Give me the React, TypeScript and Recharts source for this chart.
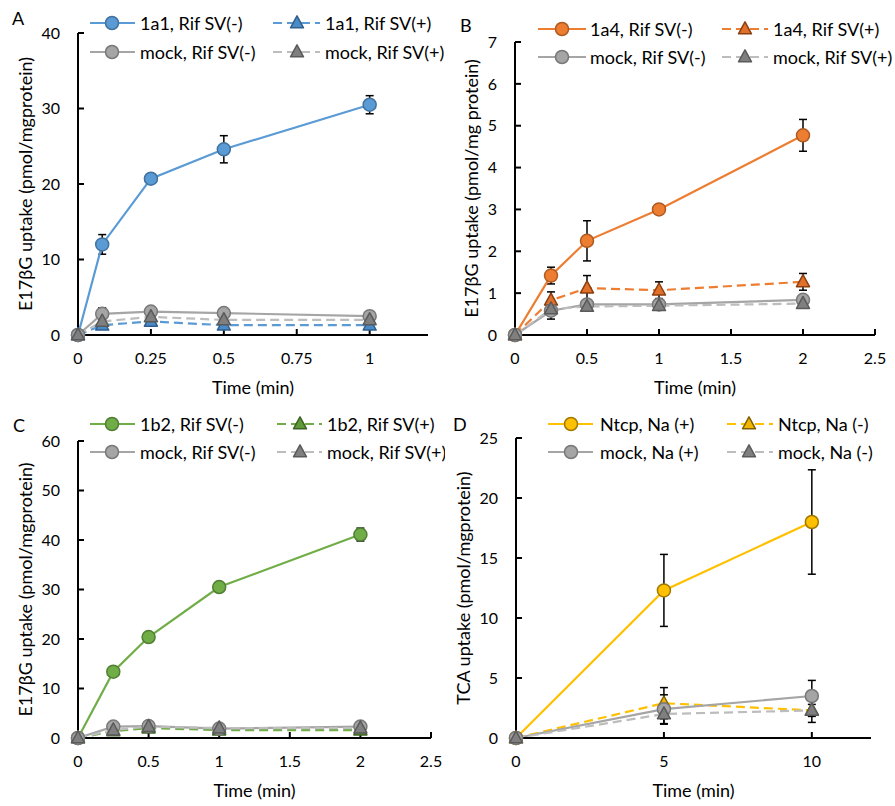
import React from 'react';
import { LineChart, Line, XAxis, YAxis, ErrorBar, Legend, Label } from 'recharts';

const FONT = 'Lato, "Open Sans", sans-serif';

// Panel A: 1a1 (E17βG, 0–1 min)
const timeA = [0, 0.083, 0.25, 0.5, 1];
const a1a1RifMinus = [0, 12.0, 20.7, 24.6, 30.5];
const a1a1RifMinusErr = [0, 1.3, 0.3, 1.8, 1.2];
const a1a1RifPlus = [0, 1.3, 1.8, 1.3, 1.3];
const a1a1RifPlusErr = [0, 0.3, 0.3, 0.2, 0.2];
const aMockRifMinus = [0, 2.8, 3.1, 2.9, 2.5];
const aMockRifMinusErr = [0, 0.8, 0.6, 0.3, 0.5];
const aMockRifPlus = [0, 1.8, 2.4, 2.0, 2.0];
const aMockRifPlusErr = [0, 0.4, 0.3, 0.3, 0.3];

// Panel B: 1a4 (E17βG, 0–2 min)
const timeB = [0, 0.25, 0.5, 1, 2];
const b1a4RifMinus = [0, 1.42, 2.25, 3.0, 4.77];
const b1a4RifMinusErr = [0, 0.2, 0.48, 0.03, 0.38];
const b1a4RifPlus = [0, 0.83, 1.12, 1.07, 1.27];
const b1a4RifPlusErr = [0, 0.2, 0.3, 0.2, 0.2];
const bMockRifMinus = [0, 0.58, 0.73, 0.73, 0.84];
const bMockRifMinusErr = [0, 0.2, 0.05, 0.05, 0.1];
const bMockRifPlus = [0, 0.62, 0.68, 0.7, 0.75];
const bMockRifPlusErr = [0, 0.15, 0.05, 0.05, 0.08];

// Panel C: 1b2 (E17βG, 0–2 min)
const timeC = [0, 0.25, 0.5, 1, 2];
const c1b2RifMinus = [0, 13.4, 20.4, 30.5, 41.1];
const c1b2RifMinusErr = [0, 0.5, 0.5, 0.9, 1.3];
const c1b2RifPlus = [0, 1.4, 2.0, 1.6, 1.6];
const c1b2RifPlusErr = [0, 0.3, 0.3, 0.3, 0.3];
const cMockRifMinus = [0, 2.3, 2.4, 1.9, 2.3];
const cMockRifMinusErr = [0, 0.3, 0.3, 0.3, 0.3];
const cMockRifPlus = [0, 1.6, 2.3, 2.0, 2.0];
const cMockRifPlusErr = [0, 0.3, 0.3, 0.3, 0.3];

// Panel D: Ntcp (TCA, 0–10 min)
const timeD = [0, 5, 10];
const dNtcpNaPlus = [0, 12.3, 18.0];
const dNtcpNaPlusErr = [0, 3.0, 4.35];
const dNtcpNaMinus = [0, 2.9, 2.3];
const dNtcpNaMinusErr = [0, 1.3, 0.5];
const dMockNaPlus = [0, 2.4, 3.5];
const dMockNaPlusErr = [0, 1.2, 1.3];
const dMockNaMinus = [0, 2.0, 2.3];
const dMockNaMinusErr = [0, 0.85, 1.0];

type Shape = 'circle' | 'triangle';

interface SeriesDef {
  name: string;
  line: string;
  fill: string;
  edge: string;
  dashed: boolean;
  shape: Shape;
}

const grayCircle = { line: '#A5A5A5', fill: '#A5A5A5', edge: '#787878', dashed: false, shape: 'circle' as Shape };
const grayTriangle = { line: '#BDBDBD', fill: '#7F7F7F', edge: '#5A5A5A', dashed: true, shape: 'triangle' as Shape };

const buildRows = (t: number[], vals: number[][], errs: number[][]) =>
  t.map((x, i) => {
    const row: Record<string, number> = { t: x };
    vals.forEach((v, k) => {
      row[`s${k}`] = v[i];
      row[`e${k}`] = errs[k][i];
    });
    return row;
  });

const drawMarker = (shape: Shape, cx: number, cy: number, fill: string, edge: string, key: string) => {
  if (cx == null || cy == null) return <g key={key} />;
  if (shape === 'circle') {
    return <circle key={key} cx={cx} cy={cy} r={6.5} fill={fill} stroke={edge} strokeWidth={1.5} />;
  }
  const w = 13;
  const h = 12;
  return (
    <polygon
      key={key}
      points={`${cx},${cy - h * 0.6} ${cx + w / 2},${cy + h * 0.4} ${cx - w / 2},${cy + h * 0.4}`}
      fill={fill}
      stroke={edge}
      strokeWidth={1.5}
      strokeLinejoin="round"
    />
  );
};

interface LegendCol { from: number; to: number; marker: number; text: number }

interface PanelDef {
  letter: string;
  letterX: number;
  letterY: number;
  left: number;
  top: number;
  width: number;
  height: number;
  margin: { top: number; right: number; bottom: number; left: number };
  yWidth: number;
  rows: Record<string, number>[];
  xDomain: [number, number];
  xTicks: number[];
  yDomain: [number, number];
  yTicks: number[];
  yLabel: string;
  yLabelX: number;
  series: SeriesDef[];
  legendRows: number[];
  legendCols: LegendCol[];
}

const panels: PanelDef[] = [
  {
    letter: 'A', letterX: 12, letterY: 18, left: 0, top: 0, width: 445, height: 400,
    margin: { top: 33, right: 17, bottom: 10, left: 0 }, yWidth: 78,
    rows: buildRows(timeA, [a1a1RifMinus, a1a1RifPlus, aMockRifMinus, aMockRifPlus],
      [a1a1RifMinusErr, a1a1RifPlusErr, aMockRifMinusErr, aMockRifPlusErr]),
    xDomain: [0, 1.2], xTicks: [0, 0.25, 0.5, 0.75, 1],
    yDomain: [0, 40], yTicks: [0, 10, 20, 30, 40],
    yLabel: 'E17βG uptake (pmol/mgprotein)', yLabelX: 25,
    series: [
      { name: '1a1, Rif SV(-)', line: '#5B9BD5', fill: '#5B9BD5', edge: '#41719C', dashed: false, shape: 'circle' },
      { name: '1a1, Rif SV(+)', line: '#5B9BD5', fill: '#4A8AC6', edge: '#2F5F8F', dashed: true, shape: 'triangle' },
      { name: 'mock, Rif SV(-)', ...grayCircle },
      { name: 'mock, Rif SV(+)', ...grayTriangle },
    ],
    legendRows: [23, 52],
    legendCols: [{ from: 90, to: 135, marker: 112, text: 140 }, { from: 273, to: 320, marker: 297, text: 325 }],
  },
  {
    letter: 'B', letterX: 15, letterY: 25, left: 445, top: 0, width: 450, height: 400,
    margin: { top: 42, right: 20, bottom: 10, left: 0 }, yWidth: 70,
    rows: buildRows(timeB, [b1a4RifMinus, b1a4RifPlus, bMockRifMinus, bMockRifPlus],
      [b1a4RifMinusErr, b1a4RifPlusErr, bMockRifMinusErr, bMockRifPlusErr]),
    xDomain: [0, 2.5], xTicks: [0, 0.5, 1, 1.5, 2, 2.5],
    yDomain: [0, 7], yTicks: [0, 1, 2, 3, 4, 5, 6, 7],
    yLabel: 'E17βG uptake (pmol/mg protein)', yLabelX: 26,
    series: [
      { name: '1a4, Rif SV(-)', line: '#ED7D31', fill: '#ED7D31', edge: '#AE5A21', dashed: false, shape: 'circle' },
      { name: '1a4, Rif SV(+)', line: '#ED7D31', fill: '#E0702A', edge: '#8A3F10', dashed: true, shape: 'triangle' },
      { name: 'mock, Rif SV(-)', ...grayCircle },
      { name: 'mock, Rif SV(+)', ...grayTriangle },
    ],
    legendRows: [29, 57],
    legendCols: [{ from: 93, to: 141, marker: 117, text: 145 }, { from: 277, to: 323, marker: 300, text: 328 }],
  },
  {
    letter: 'C', letterX: 13, letterY: 25, left: 0, top: 400, width: 445, height: 406,
    margin: { top: 41, right: 14, bottom: 13, left: 0 }, yWidth: 78,
    rows: buildRows(timeC, [c1b2RifMinus, c1b2RifPlus, cMockRifMinus, cMockRifPlus],
      [c1b2RifMinusErr, c1b2RifPlusErr, cMockRifMinusErr, cMockRifPlusErr]),
    xDomain: [0, 2.5], xTicks: [0, 0.5, 1, 1.5, 2, 2.5],
    yDomain: [0, 60], yTicks: [0, 10, 20, 30, 40, 50, 60],
    yLabel: 'E17βG uptake (pmol/mgprotein)', yLabelX: 25,
    series: [
      { name: '1b2, Rif SV(-)', line: '#70AD47', fill: '#70AD47', edge: '#507E32', dashed: false, shape: 'circle' },
      { name: '1b2, Rif SV(+)', line: '#70AD47', fill: '#5E9A38', edge: '#3D6325', dashed: true, shape: 'triangle' },
      { name: 'mock, Rif SV(-)', ...grayCircle },
      { name: 'mock, Rif SV(+)', ...grayTriangle },
    ],
    legendRows: [24, 52],
    legendCols: [{ from: 90, to: 135, marker: 112, text: 140 }, { from: 277, to: 322, marker: 300, text: 327 }],
  },
  {
    letter: 'D', letterX: 8, letterY: 24, left: 445, top: 400, width: 450, height: 406,
    margin: { top: 38, right: 24, bottom: 13, left: 0 }, yWidth: 71,
    rows: buildRows(timeD, [dNtcpNaPlus, dNtcpNaMinus, dMockNaPlus, dMockNaMinus],
      [dNtcpNaPlusErr, dNtcpNaMinusErr, dMockNaPlusErr, dMockNaMinusErr]),
    xDomain: [0, 12], xTicks: [0, 5, 10],
    yDomain: [0, 25], yTicks: [0, 5, 10, 15, 20, 25],
    yLabel: 'TCA uptake (pmol/mgprotein)', yLabelX: 18,
    series: [
      { name: 'Ntcp, Na (+)', line: '#FFC000', fill: '#FFC000', edge: '#A07800', dashed: false, shape: 'circle' },
      { name: 'Ntcp, Na (-)', line: '#FFC000', fill: '#F2B600', edge: '#7F6000', dashed: true, shape: 'triangle' },
      { name: 'mock, Na (+)', ...grayCircle },
      { name: 'mock, Na (-)', ...grayTriangle },
    ],
    legendRows: [24, 52],
    legendCols: [{ from: 103, to: 148, marker: 126, text: 155 }, { from: 282, to: 328, marker: 304, text: 333 }],
  },
];

const Panel = ({ p }: { p: PanelDef }) => {
  const legendContent = () => (
    <svg width={p.width} height={70} style={{ display: 'block', overflow: 'visible' }}>
      <text x={p.letterX} y={p.letterY} dominantBaseline="central" fontSize={18} fontWeight={400} fontFamily={FONT} fill="#000">
        {p.letter}
      </text>
      {p.series.map((s, i) => {
        const col = p.legendCols[i % 2];
        const y = p.legendRows[Math.floor(i / 2)];
        return (
          <g key={s.name}>
            <line
              x1={col.from}
              x2={col.to}
              y1={y}
              y2={y}
              stroke={s.line}
              strokeWidth={2.2}
              strokeDasharray={s.dashed ? '9 5' : undefined}
            />
            {drawMarker(s.shape, col.marker, y, s.fill, s.edge, `lg-${i}`)}
            <text x={col.text} y={y} dominantBaseline="central" fontSize={18} fontWeight={400} fontFamily={FONT} fill="#000">
              {s.name}
            </text>
          </g>
        );
      })}
    </svg>
  );

  return (
    <div style={{ position: 'absolute', left: p.left, top: p.top, width: p.width, height: p.height, overflow: 'hidden' }}>
      <LineChart width={p.width} height={p.height} data={p.rows} margin={p.margin} style={{ fontFamily: FONT, fontWeight: 400 }}>
        <XAxis
          type="number"
          dataKey="t"
          domain={p.xDomain}
          ticks={p.xTicks}
          interval={0}
          height={55}
          tickSize={-6}
          tickMargin={24}
          axisLine={{ stroke: '#000', strokeWidth: 2 }}
          tickLine={{ stroke: '#000', strokeWidth: 2 }}
          tick={{ fill: '#000', fontSize: 16, fontWeight: 400, fontFamily: FONT }}
        >
          <Label
            content={(lp: any) => (
              <text
                x={lp.viewBox.x + lp.viewBox.width / 2}
                y={lp.viewBox.y + 52}
                textAnchor="middle"
                dominantBaseline="central"
                fontSize={18}
                fontWeight={400}
                fontFamily={FONT}
                fill="#000"
              >
                Time (min)
              </text>
            )}
          />
        </XAxis>
        <YAxis
          type="number"
          domain={p.yDomain}
          ticks={p.yTicks}
          interval={0}
          width={p.yWidth}
          tickSize={-6}
          tickMargin={24}
          axisLine={{ stroke: '#000', strokeWidth: 2 }}
          tickLine={{ stroke: '#000', strokeWidth: 2 }}
          tick={{ fill: '#000', fontSize: 16, fontWeight: 400, fontFamily: FONT }}
        >
          <Label
            content={(lp: any) => {
              const cy = lp.viewBox.y + lp.viewBox.height / 2;
              return (
                <text
                  x={p.yLabelX}
                  y={cy}
                  transform={`rotate(-90, ${p.yLabelX}, ${cy})`}
                  textAnchor="middle"
                  dominantBaseline="central"
                  fontSize={18}
                  fontWeight={400}
                  fontFamily={FONT}
                  fill="#000"
                >
                  {p.yLabel}
                </text>
              );
            }}
          />
        </YAxis>
        <Legend
          layout="horizontal"
          verticalAlign="middle"
          align="center"
          wrapperStyle={{ left: 0, top: 0, width: p.width, height: 70 }}
          content={legendContent}
        />
        {p.series.map((s, k) => (
          <Line
            key={s.name}
            type="linear"
            dataKey={`s${k}`}
            name={s.name}
            stroke={s.line}
            strokeWidth={2.2}
            strokeDasharray={s.dashed ? '9 5' : undefined}
            isAnimationActive={false}
            activeDot={false}
            dot={(dp: any) => drawMarker(s.shape, dp.cx, dp.cy, s.fill, s.edge, `${p.letter}-${k}-${dp.index}`)}
          >
            <ErrorBar dataKey={`e${k}`} direction="y" width={4} stroke="#000" strokeWidth={1.5} isAnimationActive={false} />
          </Line>
        ))}
      </LineChart>
    </div>
  );
};

export default function App() {
  return (
    <div style={{ position: 'absolute', left: 0, top: 0, width: 895, height: 806, background: '#fff' }}>
      {panels.map((p) => (
        <Panel key={p.letter} p={p} />
      ))}
    </div>
  );
}
